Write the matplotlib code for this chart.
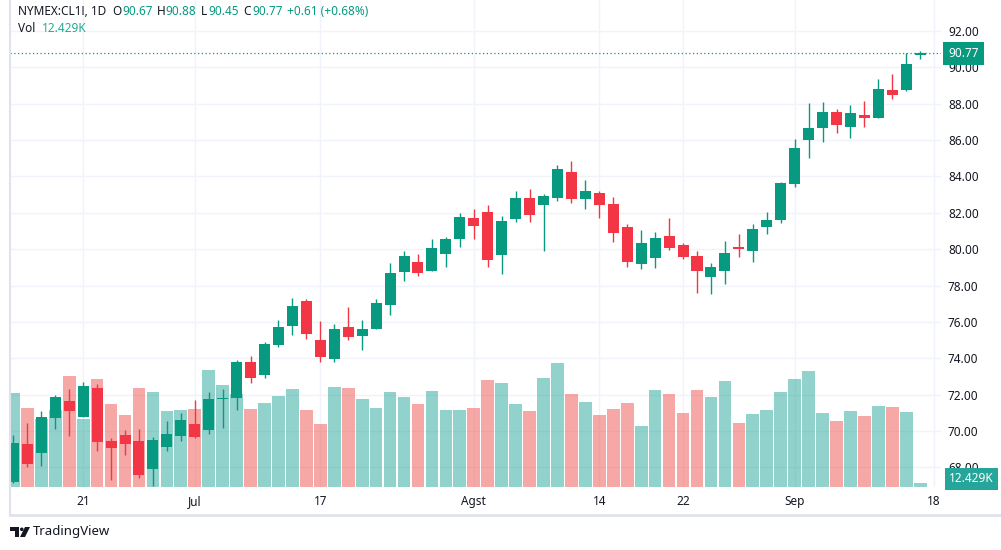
import matplotlib
matplotlib.use("Agg")
import matplotlib.pyplot as plt
from matplotlib.lines import Line2D
from matplotlib.patches import Polygon, Ellipse
import numpy as np

plt.rcParams["font.family"] = ["Noto Sans", "DejaVu Sans"]

# daily OHLC, CL1! (NYMEX)
opens = [67.21, 69.28, 68.80, 70.73, 71.65, 70.78, 72.36, 69.45, 69.78, 69.45,
         67.92, 69.13, 69.74, 70.38, 70.07, 71.75, 71.83, 73.79, 73.09, 74.75,
         75.79, 77.15, 75.00, 73.97, 75.72, 75.24, 75.63, 76.95, 78.76, 79.29,
         78.82, 79.75, 80.58, 81.71, 82.04, 79.70, 81.68, 82.81, 82.45, 82.83,
         84.24, 82.78, 83.09, 82.48, 81.22, 79.20, 79.53, 80.72, 80.23, 79.62,
         78.49, 78.82, 80.12, 79.92, 81.24, 81.62, 83.60, 86.02, 86.68, 87.54,
         86.74, 87.38, 87.23, 88.75, 88.77, 90.67]
highs = [69.78, 70.44, 71.10, 71.98, 72.31, 72.69, 72.58, 69.61, 70.05, 70.11,
         69.67, 70.55, 70.99, 71.70, 72.14, 72.31, 73.90, 74.12, 74.89, 76.11,
         77.31, 77.26, 76.05, 75.88, 76.82, 76.11, 77.26, 79.24, 79.90, 79.73,
         80.56, 80.67, 81.99, 82.21, 82.43, 81.82, 83.20, 83.31, 83.03, 84.63,
         84.85, 83.80, 83.20, 82.87, 81.38, 81.05, 80.94, 81.71, 80.34, 79.90,
         79.24, 80.45, 80.83, 81.38, 82.04, 83.69, 86.06, 88.04, 88.09, 87.71,
         87.93, 88.15, 89.36, 89.63, 90.79, 90.88]
lows = [67.12, 68.04, 68.09, 70.12, 69.74, 70.78, 68.90, 67.30, 68.70, 67.43,
        66.99, 68.91, 69.46, 69.63, 69.85, 70.18, 71.17, 72.65, 72.93, 74.64,
        75.30, 75.07, 73.81, 73.81, 75.02, 74.47, 75.63, 76.40, 78.27, 78.54,
        78.82, 79.03, 80.14, 80.58, 79.04, 78.65, 81.51, 81.51, 79.92, 82.67,
        82.56, 82.22, 81.73, 80.41, 79.04, 78.93, 78.98, 79.97, 79.48, 77.61,
        77.55, 78.10, 79.59, 79.31, 80.85, 81.46, 83.44, 85.03, 85.91, 86.41,
        86.13, 86.74, 87.23, 88.28, 88.72, 90.45]
closes = [69.34, 68.20, 70.77, 71.87, 71.12, 72.47, 69.39, 69.08, 69.30, 67.59,
          69.50, 69.83, 70.60, 69.68, 71.76, 71.77, 73.79, 72.93, 74.78, 75.72,
          76.87, 75.35, 74.08, 75.61, 75.19, 75.61, 77.04, 78.69, 79.62, 78.71,
          80.06, 80.56, 81.77, 81.29, 79.42, 81.55, 82.81, 81.90, 82.92, 84.41,
          82.78, 83.20, 82.45, 80.91, 79.31, 80.34, 80.61, 80.08, 79.59, 78.82,
          79.02, 79.79, 80.01, 81.11, 81.60, 83.64, 85.56, 86.66, 87.54, 86.85,
          87.49, 87.23, 88.81, 88.50, 90.16, 90.77]
# volume in thousands of contracts
volumes = [314, 264, 227, 257, 372, 227, 361, 278, 241, 331,
           318, 254, 257, 261, 392, 341, 311, 261, 281, 304,
           328, 257, 210, 335, 331, 294, 264, 318, 301, 278,
           321, 257, 257, 264, 358, 348, 278, 254, 365, 415,
           311, 284, 241, 261, 281, 204, 324, 311, 247, 324,
           301, 355, 214, 244, 257, 318, 361, 388, 247, 220,
           254, 237, 271, 267, 251, 12.429]

tick_idx = [5, 13, 22, 33, 42, 48, 56, 66]
tick_labels = ["21", "Jul", "17", "Agst", "14", "22", "Sep", "18"]
price_ticks = np.arange(68, 93, 2)

UP, DOWN = "#089981", "#f23645"
VOL_UP, VOL_DOWN = (38/255, 166/255, 154/255, 0.5), (239/255, 83/255, 80/255, 0.5)
GRID = "#f0f3fa"
TEXT = "#131722"

W, H = 1001, 550
fig = plt.figure(figsize=(W / 100, H / 100), dpi=100)


def fx(px):
    return px / W


def fy(py):
    return 1 - py / H


x = np.arange(len(closes))
o, h, l, c = map(np.array, (opens, highs, lows, closes))
up = c >= o

# volume pane underneath, price on the twin (right-hand scale)
ax_vol = fig.add_axes([fx(10), fy(487), fx(941) - fx(10), fy(0) - fy(487)])
ax = ax_vol.twinx()

ax_vol.set_xlim(-0.244, 66.49)
ax_vol.set_ylim(0, 487 / 0.298)
ax.set_ylim(66.92, 93.705)

# grid sits below the translucent volume bars
ax_vol.vlines(tick_idx, 0, 1, transform=ax_vol.get_xaxis_transform(), color=GRID, lw=1, zorder=0)
ax_vol.hlines(price_ticks, 0, 1, transform=ax.get_yaxis_transform(), color=GRID, lw=1, zorder=0)

ax_vol.bar(x, volumes, width=0.91, color=[VOL_UP if u else VOL_DOWN for u in up], zorder=2)

colors = [UP if u else DOWN for u in up]
ax.axhline(c[-1], color=UP, lw=0.9, ls=(0, (1, 2)), zorder=1)
ax.vlines(x, l, h, colors=colors, lw=1.0, zorder=2)
body_lo = np.minimum(o, c)
body_h = np.maximum(np.abs(c - o), 0.07)
ax.bar(x, body_h, bottom=body_lo, width=0.79, color=colors, zorder=3)

for a in (ax, ax_vol):
    for s in a.spines.values():
        s.set_visible(False)

ax_vol.set_yticks([])
ax_vol.set_xticks(tick_idx, tick_labels)
ax_vol.tick_params(axis="x", length=0, pad=6, labelsize=8.5, labelcolor=TEXT)

ax.set_yticks(price_ticks, [f"{p:.2f}" for p in price_ticks])
ax.tick_params(axis="y", length=0, pad=5, labelsize=8.5, labelcolor=TEXT)

# last price / last volume badges on the scale (drawn over the tick labels)
ax.text(1 + 7 / 931, c[-1], f"{c[-1]:.2f}", transform=ax.get_yaxis_transform(), ha="left", va="center",
        color="white", fontsize=8.5, clip_on=False, zorder=10,
        bbox=dict(boxstyle="square,pad=0.45", fc=UP, ec="none"))
ax.text(1 + 8 / 931, 8 / 487, f"{volumes[-1]:.3f}K", transform=ax.transAxes, ha="left", va="center",
        color="white", fontsize=8.5, clip_on=False, zorder=10,
        bbox=dict(boxstyle="square,pad=0.35", fc="#26a69a", ec="none"))

# legend header
chg = c[-1] - c[-2]
pct = chg / c[-2] * 100
line1 = [("NYMEX:CL1!, 1D", 18, TEXT), ("O", 112, TEXT), (f"{o[-1]:.2f}", 122, UP),
         ("H", 157, TEXT), (f"{h[-1]:.2f}", 165, UP), ("L", 201, TEXT), (f"{l[-1]:.2f}", 208, UP),
         ("C", 243, TEXT), (f"{c[-1]:.2f}", 252, UP), (f"{chg:+.2f} ({pct:+.2f}%)", 287, UP)]
for s, px, col in line1:
    fig.text(fx(px), fy(11.5), s, color=col, fontsize=8.5, va="center", ha="left")
fig.text(fx(18), fy(28), "Vol", color=TEXT, fontsize=8.5, va="center", ha="left")
fig.text(fx(42), fy(28), f"{volumes[-1]:.3f}K", color="#22ab94", fontsize=8.5, va="center", ha="left")

# widget frame
fig.add_artist(Line2D([fx(10), fx(10)], [fy(0), fy(515)], color="#e0e3eb", lw=1.5))
fig.add_artist(Line2D([fx(10), 1], [fy(515), fy(515)], color="#e0e3eb", lw=2))

# TradingView mark
t_shape = [(10, 527), (19, 527), (19, 537), (15, 537), (15, 531), (10, 531)]
slant = [(25, 527), (30, 527), (25, 537), (20, 537)]
for pts in (t_shape, slant):
    fig.add_artist(Polygon([(fx(a), fy(b)) for a, b in pts], closed=True, fc=TEXT, ec="none",
                           transform=fig.transFigure))
fig.add_artist(Ellipse((fx(21.8), fy(529.3)), 3.6 / W, 3.6 / H, fc=TEXT, ec="none", transform=fig.transFigure))
fig.text(fx(33), fy(532), "TradingView", color=TEXT, fontsize=9.5, va="center", ha="left")

fig.savefig("out.png", dpi=100, facecolor="white")
